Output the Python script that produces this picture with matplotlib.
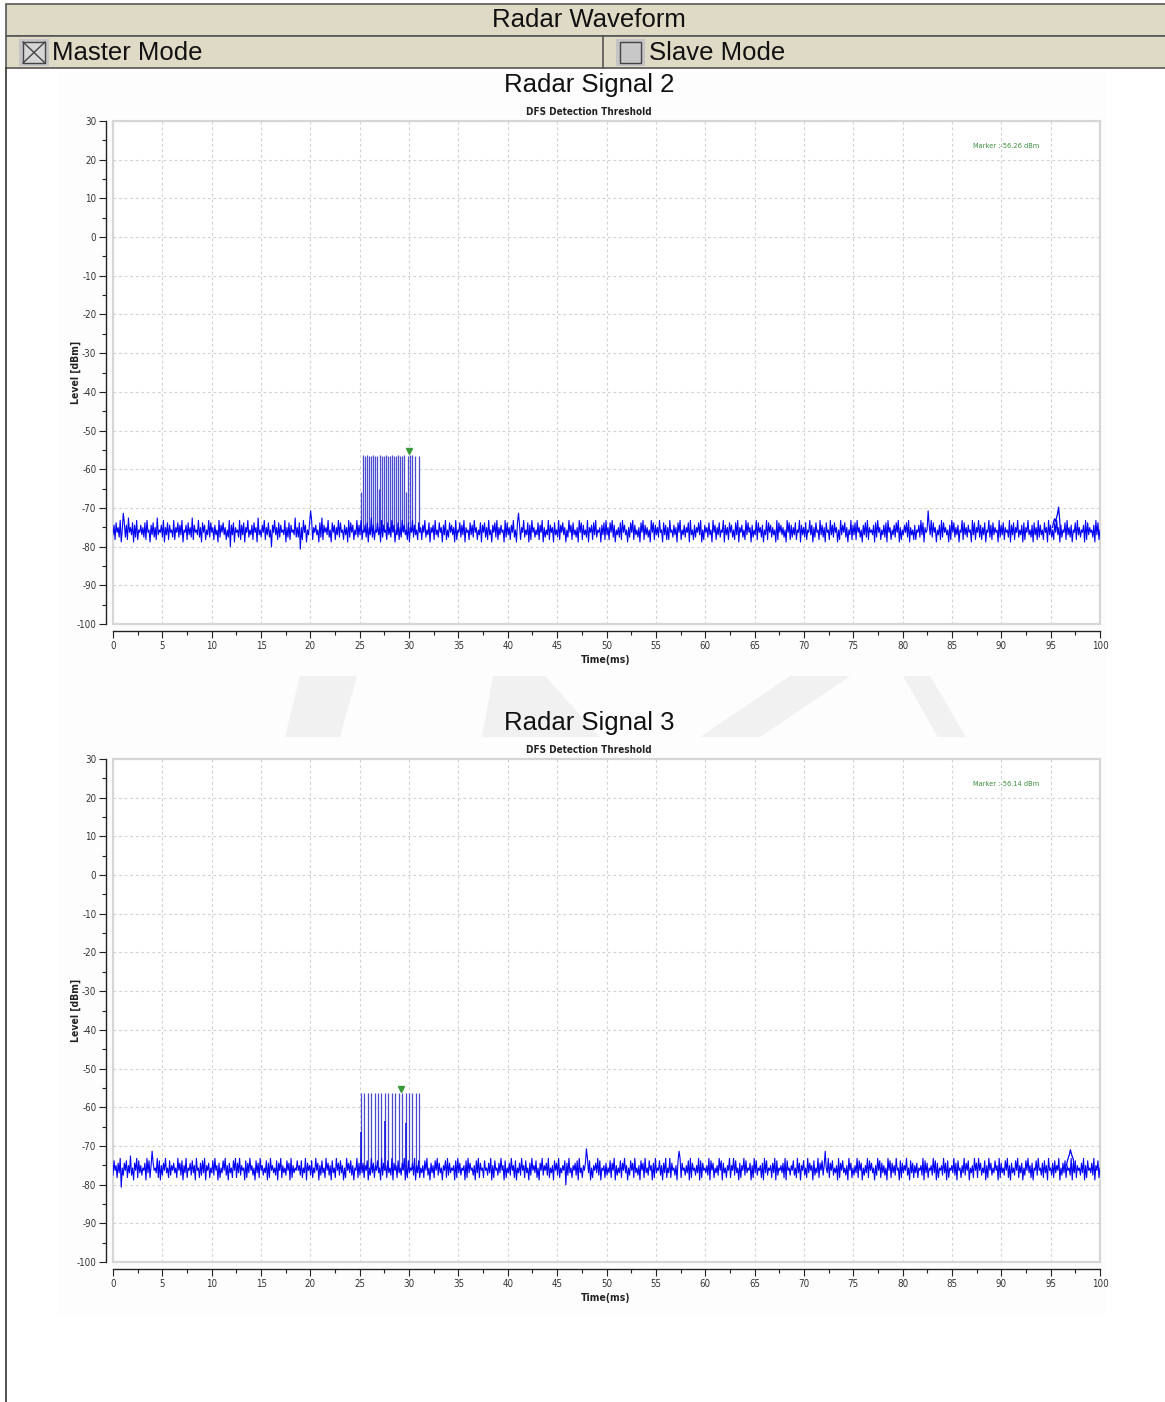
import numpy as np
import matplotlib
matplotlib.use("Agg")
import matplotlib.pyplot as plt
from matplotlib import font_manager as fm
from matplotlib.patches import Rectangle, Polygon
from matplotlib.lines import Line2D

# ---------------- data ----------------
x_ticks = [0, 5, 10, 15, 20, 25, 30, 35, 40, 45, 50, 55, 60, 65, 70, 75, 80, 85, 90, 95, 100]
y_ticks = [30, 20, 10, 0, -10, -20, -30, -40, -50, -60, -70, -80, -90, -100]

# noise samples (0..100 ms), base-36 codes: level = -75.7 + 0.62*(code-10)
noise2_rows = [
    "8c6d9b7e5ahd7c6f9b8d5c7e6a9c8b7d6e9a5c8d7b6f8a9c7e5b8d6c9a7e",
    "6b9d7c8e5a9c6d8b7f6c9a8e7b5d9c6a8e7d9b6c8a5e7c9d8b6a7e3c8d5b",
    "9a7e6c8d5b9e7a8c6d9b5f8a7c9e6b8d7a3c9e8b6d7c9a8e5b7d6c9a8f7b",
    "7d2b6e9c5a8die6b9c8a5d7f6c9b8e7a5d9c6b8e7d9a6c8b5e7d9c6a8e7c",
    "8e6a9c7d5b8f7c6a9d8b5e7c9a6d8b7e9c5a8d6b7e9c8a6d5b9e7c8a6d9b",
    "6c9e7a8d5b9c6e8a7d9b5c8e6a7d9c8b5e6a9d7c8e5b9a6d8c7e9b6a8d5c",
    "9d7b6e8a5c9d7e6b8c9a5e7d8b6c9e7a5dhc6b9e7a8d5c6e9b7a8d6c9e5b",
    "7a8e6c9b5d8a7e6c9d8b5a7e9c6d8a7b5e9d6c8a7e5b9c6d8e7a9b5c8d6e",
    "8b6d9e7c5a8b7d6e9c8a5b7d9e6c8a7b5d9e6c8b7a5e9d6c8b7e9a5d8c6b",
    "6e9a7c8b5d9e6a8c7b9d5e8a6c7b9d8e5a6c9b7d8a5e9c6b8d7a9e5c8b6d",
    "9c7a6d8e5b9c7a6e8d9b5c7a8e6d9b7c5a8e6d9c7b8a5e6d9c8b7a5e9d6c",
    "7b8d6a9e5c8b7d6a9e8c5b7d9a6e8c7b5d9a6e8c7d9b5a6e8c9d7b5a8e6c",
    "8d6e9b7a5c8d7e6b9a8c5d7e9b6a8c7d5e9b6a8c7d9e5b6a8c9d7e5b8a6c",
    "6a9c7e8d5b9aic8e7d9b5a8c6e7d9b8a5c6e9d7b8c5a9e6d8b7c9a5e8d6b",
    "9e7c6b8d5a9e7c6d8b9a5e7c8d6b9a7e5c8d6b9e7a8c5d6b9e8a7c5d8b6e",
    "7c8a6d9b5e8c7a6d9e8b5c7a9d6e8b7c5a9d6e8b7a9c5e6d8b9a7c5e8d6a",
]
noise3_rows = [
    "7d9b6c8e2a7c9d6b8f7a5c9e6d8b7a9c5e8d6bhc9a8e6d5b7c9e8a6d7b9c",
    "8a6e9c7d5b8e6a9c7d8b5e9a6c7d8e5b9c6a8d7e9b5c6a8d9e7b5c8a6d9e",
    "6c8e7b9a5d6c8e9b7a5d8c6e9b7a8d5c6e9b8a7d5c9e6b8a7d9c5e6b8a9d",
    "9b7d6a8e5c9b7d6a8e9c5b7d8a6e9c7b5d8a6e9c7d8b5a6e9c8d7b5a9e6c",
    "7e8c6b9d5a7e8c6b9d8a5e7c9b6d8a7e5c9b6d8a7c9e5b6d8a9c7e5b8d6a",
    "8b6d9e7a5c8b6d9e7c8a5b9d6e7c8a9b5d6e8c7a9b5d6e8c9a7b5d8e6c9a",
    "6d9a7c8e5b6d9a7c8e9b5d6a8c7e9b6d5a8c7e9b6d8a5c7e9b8d6a5c9e7b",
    "9c7e6a8b5d9c7e6a8b9d3c7e8a6b9c7d5e8a6b9cie8d5a6b9c8e7d5a9b6c",
    "7a8d6c9e5b7a8d6c9e8b5a7d9c6e8a7b5d9c6e8a7d9b5c6e8a9d7b5c8e6a",
    "8e6c9a7b5dhe6c9a7b8d5e6c9a7b8e5d6c9a8b7e5d9c6a8b7e9d5c8a6b9e",
    "6b9e7d8a5c6b9e7d8a9c5b6e8d7a9b6c5e8d7a9b6c8e5d7a9b8c6e5d9a7b",
    "9d7a6e8c5b9d7a6e8c9b5d7a8e6c9d7bha8e6c9d7a8b5e6c9d8a7b5e9c6a",
    "7b8e6d9c5a7b8e6d9c8a5b7e9d6c8b7a5e9d6c8b7e9a5d6c8b9e7a5d8c6b",
    "8c6a9b7e5d8c6a9b7e8d5c6a9b7e8c5d6a9b8e7c5d9a6b8e7c9d5a8b6e9c",
    "6e9c7a8d5b6e9c7a8d9b5e6c8a7d9e6b5c8a7d9e6b8c5a7d9e8b6c5a9d7e",
    "9a7c6d8b5e9a7c6d8b9e5a7c8d6b9a7e5c8d6b9a7c8e5b6d9a8c7e5b9d6a",
]

# short raised bursts near the end of each trace
bump2_t = [95.2, 95.3, 95.4, 95.5, 95.6, 95.7, 95.8, 95.9, 96.0]
bump2_v = [-75.0, -73.5, -72.8, -73.6, -72.5, -71.5, -69.8, -72.5, -76.5]
bump3_t = [96.6, 96.7, 96.8, 96.9, 97.0, 97.1, 97.2, 97.3, 97.4]
bump3_v = [-75.0, -73.8, -73.0, -72.2, -71.0, -72.0, -72.8, -73.5, -76.0]

# radar pulses: times (ms) and peak levels (dBm)
pulse2_t = [25.1, 25.3, 25.5, 25.7, 25.9, 26.1, 26.3, 26.5, 26.7, 26.9, 27.1, 27.3,
            27.5, 27.7, 27.9, 28.1, 28.3, 28.5, 28.7, 28.9, 29.1, 29.3, 29.5, 29.7,
            29.9, 30.1, 30.3, 30.6, 31.0]
pulse2_v = [-66.0, -56.4, -56.5, -56.4, -56.6, -56.5, -56.4, -56.5, -56.5, -65.0, -56.4, -56.5,
            -56.6, -56.4, -56.5, -56.5, -56.4, -56.6, -56.5, -56.4, -56.5, -56.5, -56.4, -66.0,
            -56.5, -56.4, -56.3, -56.5, -56.5]
pulse3_t = [25.1, 25.45, 25.8, 26.15, 26.5, 26.85, 27.2, 27.55, 27.9, 28.25, 28.6,
            28.95, 29.3, 29.65, 30.0, 30.3, 30.65, 31.0]
pulse3_v = [-56.3, -56.4, -56.3, -56.4, -56.3, -56.4, -56.4, -56.3, -56.4, -56.3, -56.4,
            -56.4, -56.3, -56.4, -56.4, -56.3, -56.3, -56.4]
pulse3_short_t = [25.1, 27.55, 29.65]
pulse3_short_v = [-66.5, -63.5, -64.0]

marker2 = (30.0, -55.2)
marker3 = (29.2, -55.2)
marker2_text = "Marker :-56.26 dBm"
marker3_text = "Marker :-56.14 dBm"
titles = ["Radar Signal 2", "Radar Signal 3"]

# ---------------- fonts ----------------
_names = {f.name for f in fm.fontManager.ttflist}
if "Liberation Sans Narrow" in _names:
    NARROW = dict(family="Liberation Sans Narrow")
else:
    NARROW = dict(family="DejaVu Sans", stretch="condensed")
ARIAL = dict(family="Liberation Sans" if "Liberation Sans" in _names else "DejaVu Sans")

# ---------------- figure ----------------
W, H = 1165, 1402
fig = plt.figure(figsize=(W / 100, H / 100), dpi=100)
fig.patch.set_facecolor("white")


def fx(x):
    return x / W


def fy(y):
    return 1 - y / H


def frect(x0, y0, x1, y1, **kw):
    r = Rectangle((fx(x0), fy(y1)), fx(x1) - fx(x0), fy(y0) - fy(y1),
                  transform=fig.transFigure, **kw)
    fig.patches.append(r)
    return r


def fline(xs, ys, **kw):
    fig.lines.append(Line2D([fx(v) for v in xs], [fy(v) for v in ys],
                            transform=fig.transFigure, **kw))


# soft page background and watermark strip
frect(58, 70, 1106, 1315, facecolor="#fdfdfd", edgecolor="none", zorder=-2)
wm = "#f1f1f1"
for poly in [
    [(300, 676), (357, 676), (340, 737), (285, 737)],
    [(493, 676), (545, 676), (600, 737), (482, 737)],
    [(790, 676), (850, 676), (760, 737), (700, 737)],
    [(903, 676), (930, 676), (966, 737), (938, 737)],
]:
    fig.patches.append(Polygon([(fx(a), fy(b)) for a, b in poly], closed=True,
                               transform=fig.transFigure, facecolor=wm,
                               edgecolor="none", zorder=-1))

# header table
hdr = "#dfdac6"
frect(6, 4, 1168, 36, facecolor=hdr, edgecolor="#555555", lw=1.2, zorder=1)
frect(6, 36, 1168, 68, facecolor=hdr, edgecolor="#555555", lw=1.2, zorder=1)
fline([603, 603], [36, 68], color="#555555", lw=1.2, zorder=2)
fline([6, 6], [68, 1402], color="#333333", lw=1.2, zorder=2)

fig.text(fx(589), fy(20), "Radar Waveform", ha="center", va="center",
         fontsize=18.5, color="#111111", **ARIAL)
# checkboxes
frect(19, 39, 49, 66, facecolor="#c4c4c4", edgecolor="none", zorder=2)
frect(23, 42, 45, 63, facecolor="#d6d6d6", edgecolor="#444444", lw=1.0, zorder=3)
fline([23, 45], [42, 63], color="#444444", lw=1.0, zorder=4)
fline([23, 45], [63, 42], color="#444444", lw=1.0, zorder=4)
fig.text(fx(52), fy(53), "Master Mode", ha="left", va="center",
         fontsize=18.5, color="#111111", **ARIAL)
frect(616, 39, 645, 66, facecolor="#c4c4c4", edgecolor="none", zorder=2)
frect(620, 42, 641, 63, facecolor="#c8c8c8", edgecolor="#444444", lw=1.0, zorder=3)
fig.text(fx(649), fy(53), "Slave Mode", ha="left", va="center",
         fontsize=18.5, color="#111111", **ARIAL)


def decode(rows):
    s = "".join(rows)
    codes = np.array([int(c, 36) for c in s])
    return -75.7 + 0.62 * (codes - 10)


def draw_panel(top_px, title, rows, bt, bv, pt, pv, short_t, short_v, mk, mk_text):
    fig.text(fx(589), fy(top_px - 36), title, ha="center", va="center",
             fontsize=18.5, color="#111111", **ARIAL)
    fig.text(fx(589), fy(top_px - 9), "DFS Detection Threshold", ha="center",
             va="center", fontsize=7.1, fontweight="bold", color="#222222", **NARROW)
    bottom_px = top_px + 503
    ax = fig.add_axes([fx(113), fy(bottom_px), fx(1100) - fx(113),
                       fy(top_px) - fy(bottom_px)])
    ax.set_zorder(5)
    ax.set_facecolor("white")
    ax.set_xlim(0, 100)
    ax.set_ylim(-100, 30)

    vals = decode(rows)
    t = np.linspace(0, 100, len(vals))
    ax.vlines(pt, -76.0, pv, color="#4a4ad0", lw=0.9, zorder=3)
    if short_t:
        ax.vlines(short_t, -76.0, short_v, color="#1818e0", lw=1.2, zorder=4)
    ax.plot(t, vals, color="#0000f5", lw=0.8, zorder=3)
    ax.plot(bt, bv, color="#0000f5", lw=0.9, zorder=3)
    ax.plot([mk[0]], [mk[1]], marker="v", color="#3a9a3a", ms=4.5, zorder=5)
    ax.text(90.5, 23.5, mk_text, ha="center", va="center", fontsize=5.3,
            color="#3c8c3c", **NARROW)

    ax.set_xticks(x_ticks)
    ax.set_xticks(np.arange(2.5, 100, 5), minor=True)
    ax.set_yticks(y_ticks)
    ax.set_yticks(np.arange(-95, 30, 10), minor=True)
    ax.set_xticklabels([str(v) for v in x_ticks])
    ax.set_yticklabels([str(v) for v in y_ticks])
    ax.grid(True, which="major", ls=(0, (2.5, 2.5)), color="#d2d2d2", lw=0.8, zorder=0)

    for s in ["top", "right"]:
        ax.spines[s].set_visible(False)
    for s in ["left", "bottom"]:
        ax.spines[s].set_position(("outward", 5))
        ax.spines[s].set_color("#222222")
        ax.spines[s].set_linewidth(1.0)
    ax.add_patch(Rectangle((0, 0), 1, 1, transform=ax.transAxes, fill=False,
                           edgecolor="#d6d6d6", lw=1.6, zorder=2, clip_on=False))
    ax.tick_params(which="major", length=5, width=0.8, color="#222222",
                   labelsize=7, labelcolor="#333333", pad=2)
    ax.tick_params(which="minor", length=3, width=0.8, color="#222222")
    for lab in ax.get_xticklabels() + ax.get_yticklabels():
        lab.set_family(NARROW["family"])
        if "stretch" in NARROW:
            lab.set_stretch(NARROW["stretch"])

    fig.text(fx(76), fy(top_px + 251), "Level [dBm]", rotation=90, ha="center",
             va="center", fontsize=7.5, fontweight="bold", color="#222222", **NARROW)
    fig.text(fx(606), fy(bottom_px + 36), "Time(ms)", ha="center", va="center",
             fontsize=7.5, fontweight="bold", color="#222222", **NARROW)
    return ax


draw_panel(121, titles[0], noise2_rows, bump2_t, bump2_v, pulse2_t, pulse2_v, [], [],
           marker2, marker2_text)
draw_panel(759, titles[1], noise3_rows, bump3_t, bump3_v, pulse3_t, pulse3_v,
           pulse3_short_t, pulse3_short_v, marker3, marker3_text)

fig.savefig("out.png", dpi=100, facecolor="white")
